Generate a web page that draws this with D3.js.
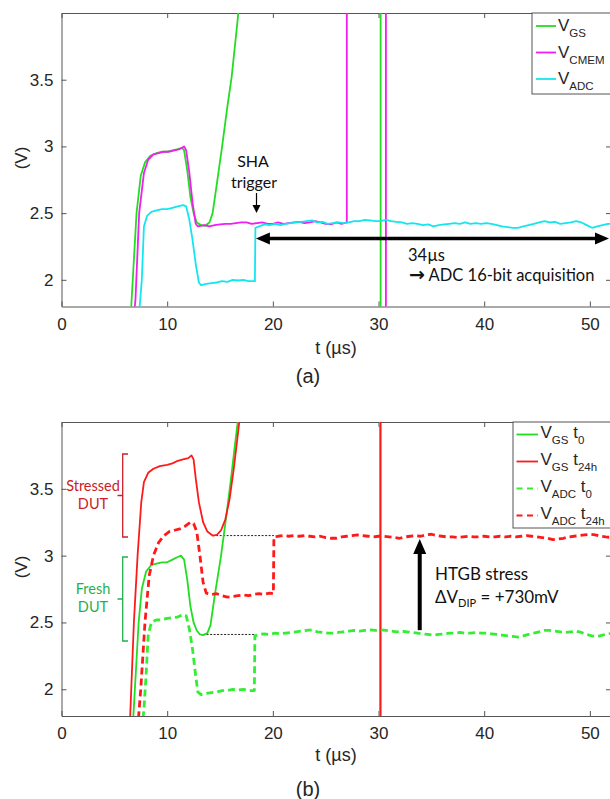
<!DOCTYPE html>
<html>
<head>
<meta charset="utf-8">
<script src="https://cdn.jsdelivr.net/npm/d3@7"></script>
<style>
  body { margin: 0; background: #fff; }
  svg { display: block; }
  .ax text { font-family: "Liberation Sans", Arial, sans-serif; font-size: 17px; fill: #262626; }
  .ax path, .ax line { stroke: #555; stroke-width: 1; }
  .lbl { font-family: "Liberation Sans", Arial, sans-serif; fill: #262626; }
  .note { font-family: Lato, "Open Sans", sans-serif; fill: #111; }
</style>
</head>
<body>
<div id="fig"></div>
<script>
// ---- data (t in µs, V in volts) ----
const xTicks = [0, 10, 20, 30, 40, 50]
const yTicks = [2, 2.5, 3, 3.5]

// panel (a)
const vgsA = [[6.4,1.7],[6.6,1.8],[7.1,2.5],[7.5,2.78],[7.9,2.88],[8.4,2.93],[9,2.95],[9.5,2.96],[10,2.96],[10.5,2.97],[11,2.98],[11.4,2.99],[11.6,2.97],[11.9,2.82],[12.2,2.62],[12.5,2.5],[12.8,2.43],[13.2,2.41],[13.6,2.405],[14.0,2.43],[14.3,2.5],[14.7,2.72],[15.2,3.0],[15.7,3.3],[16.1,3.52],[16.5,3.82],[16.8,4.05],[17.2,4.4],[30.2,4.4],[30.2,1.7]]
const vcmemA = [[6.8,1.7],[7.0,1.85],[7.35,2.5],[7.8,2.8],[8.2,2.9],[8.7,2.94],[9.2,2.95],[9.7,2.96],[10.2,2.96],[10.7,2.97],[11.2,2.98],[11.6,3.0],[11.8,2.97],[12.1,2.8],[12.4,2.58],[12.7,2.42],[12.9,2.40],[13.5,2.41],[14,2.40],[14.5,2.41],[15,2.415],[15.5,2.42],[16,2.42],[16.5,2.425],[17,2.43],[17.5,2.43],[18,2.42],[18.5,2.425],[19,2.43],[19.5,2.42],[20,2.42],[20.5,2.43],[21,2.42],[21.5,2.425],[22,2.43],[22.5,2.435],[23,2.425],[23.5,2.43],[24,2.44],[24.5,2.43],[25,2.42],[25.5,2.415],[26,2.43],[26.5,2.42],[27,2.43],[27,4.4],[30.7,4.4],[30.7,1.7]]
const vadcA = [[7.3,1.7],[7.6,2.0],[7.8,2.4],[8.1,2.48],[8.5,2.51],[9,2.52],[9.5,2.53],[10,2.53],[10.5,2.54],[11,2.55],[11.5,2.56],[11.8,2.55],[12.1,2.45],[12.4,2.3],[12.7,2.12],[13.0,1.98],[13.2,1.96],[13.7,1.97],[14.2,1.975],[14.7,1.98],[15.2,1.99],[15.7,1.985],[16.2,2.0],[16.7,1.995],[17.2,2.0],[17.7,1.99],[18.3,1.99],[18.35,2.39],[18.7,2.40],[19.2,2.415],[19.7,2.41],[20.2,2.42],[20.7,2.41],[21.2,2.42],[21.7,2.425],[22.2,2.43],[22.7,2.435],[23.2,2.44],[23.7,2.445],[24.2,2.43],[24.7,2.435],[25.2,2.42],[25.7,2.425],[26.2,2.43],[26.7,2.425],[27.2,2.43],[27.7,2.44],[28.2,2.44],[28.7,2.45],[29.2,2.445],[29.7,2.44],[30.2,2.44],[30.7,2.45],[31.2,2.44],[31.7,2.435],[32.2,2.43],[32.7,2.42],[33.2,2.425],[33.7,2.42],[34.2,2.41],[34.7,2.415],[35.2,2.40],[35.7,2.41],[36.2,2.415],[36.7,2.42],[37.2,2.425],[37.7,2.42],[38.2,2.43],[38.7,2.42],[39.2,2.425],[39.7,2.42],[40.2,2.425],[40.7,2.42],[41.2,2.41],[41.7,2.40],[42.2,2.395],[42.7,2.39],[43.2,2.39],[43.7,2.40],[44.2,2.41],[44.7,2.42],[45.2,2.43],[45.7,2.44],[46.2,2.43],[46.7,2.435],[47.2,2.42],[47.7,2.425],[48.2,2.43],[48.7,2.44],[49.2,2.43],[49.7,2.41],[50.2,2.39],[50.7,2.40],[51.2,2.41],[51.7,2.42],[52.2,2.42]]

// panel (b)
const vgsT0 = [[6.6,1.7],[6.8,1.8],[7.3,2.5],[7.6,2.75],[8.0,2.88],[8.5,2.93],[9,2.94],[9.5,2.95],[10,2.95],[10.5,2.97],[11,2.99],[11.3,3.0],[11.6,2.97],[11.9,2.82],[12.2,2.62],[12.5,2.5],[12.8,2.44],[13.1,2.41],[13.4,2.405],[13.8,2.42],[14.1,2.48],[14.5,2.7],[15.1,3.0],[15.6,3.3],[16.0,3.55],[16.4,3.82],[16.75,4.05],[17.2,4.4],[30.15,4.4],[30.15,1.7]]
const vgsT24 = [[6.4,1.7],[6.5,1.8],[6.6,2.0],[6.85,2.5],[7.2,3.0],[7.55,3.4],[7.8,3.55],[8.2,3.62],[8.7,3.65],[9.3,3.67],[10,3.68],[10.5,3.69],[11,3.71],[11.5,3.72],[12,3.73],[12.3,3.75],[12.5,3.72],[12.7,3.58],[13.0,3.4],[13.4,3.25],[13.8,3.18],[14.3,3.15],[14.7,3.155],[15.1,3.19],[15.5,3.27],[15.9,3.42],[16.3,3.65],[16.6,3.85],[16.9,4.05],[17.3,4.4],[30.2,4.4],[30.2,1.7]]
const vadcT0 = [[7.6,1.7],[7.8,1.85],[8.0,2.1],[8.2,2.4],[8.5,2.5],[9,2.52],[9.5,2.52],[10,2.53],[10.5,2.535],[11,2.54],[11.5,2.56],[11.8,2.55],[12.1,2.45],[12.4,2.3],[12.7,2.1],[12.9,1.98],[13.2,1.96],[13.7,1.97],[14.2,1.975],[14.7,1.98],[15.2,1.99],[15.7,1.99],[16.2,2.0],[16.7,1.995],[17.2,2.0],[17.7,1.99],[18.25,1.99],[18.3,2.40],[18.7,2.41],[19.2,2.415],[19.7,2.41],[20.2,2.42],[20.7,2.415],[21.2,2.42],[21.7,2.425],[22.2,2.43],[22.7,2.435],[23.2,2.44],[23.7,2.445],[24.2,2.43],[24.7,2.425],[25.2,2.42],[25.7,2.42],[26.2,2.425],[26.7,2.43],[27.2,2.435],[27.7,2.44],[28.2,2.435],[28.7,2.44],[29.2,2.445],[29.7,2.44],[30.2,2.445],[30.7,2.44],[31.2,2.435],[31.7,2.43],[32.2,2.435],[32.7,2.43],[33.2,2.425],[33.7,2.42],[34.2,2.415],[34.7,2.41],[35.2,2.405],[35.7,2.41],[36.2,2.415],[36.7,2.42],[37.2,2.42],[37.7,2.425],[38.2,2.42],[38.7,2.42],[39.2,2.425],[39.7,2.42],[40.2,2.42],[40.7,2.415],[41.2,2.41],[41.7,2.405],[42.2,2.40],[42.7,2.395],[43.2,2.39],[43.7,2.40],[44.2,2.41],[44.7,2.42],[45.2,2.43],[45.7,2.44],[46.2,2.44],[46.7,2.435],[47.2,2.43],[47.7,2.425],[48.2,2.43],[48.7,2.435],[49.2,2.425],[49.7,2.41],[50.2,2.40],[50.7,2.395],[51.2,2.405],[51.7,2.415],[52.2,2.42]]
const vadcT24 = [[7.2,1.7],[7.3,1.8],[7.5,2.0],[7.9,2.5],[8.3,2.85],[8.7,3.0],[9.2,3.1],[9.7,3.15],[10.2,3.18],[10.7,3.19],[11.2,3.2],[11.7,3.22],[12.2,3.25],[12.5,3.24],[12.8,3.18],[13.1,3.0],[13.4,2.8],[13.7,2.72],[14.2,2.71],[14.7,2.715],[15.2,2.70],[15.7,2.69],[16.2,2.695],[16.7,2.70],[17.2,2.705],[17.7,2.70],[18.2,2.71],[18.7,2.715],[19.2,2.71],[19.7,2.72],[20.05,2.715],[20.1,3.14],[20.5,3.145],[21,3.15],[21.5,3.145],[22,3.15],[22.5,3.145],[23,3.15],[23.5,3.145],[24,3.14],[24.5,3.145],[25,3.135],[25.5,3.13],[26,3.13],[26.5,3.14],[27,3.145],[27.5,3.15],[28,3.155],[28.5,3.15],[29,3.145],[29.5,3.14],[30,3.145],[30.5,3.145],[31,3.14],[31.5,3.135],[32,3.13],[32.5,3.14],[33,3.145],[33.5,3.15],[34,3.145],[34.5,3.155],[35,3.16],[35.5,3.15],[36,3.145],[36.5,3.14],[37,3.14],[37.5,3.135],[38,3.14],[38.5,3.145],[39,3.14],[39.5,3.14],[40,3.145],[40.5,3.14],[41,3.14],[41.5,3.145],[42,3.14],[42.5,3.145],[43,3.14],[43.5,3.145],[44,3.15],[44.5,3.145],[45,3.14],[45.5,3.135],[46,3.13],[46.5,3.12],[47,3.125],[47.5,3.13],[48,3.14],[48.5,3.145],[49,3.15],[49.5,3.155],[50,3.16],[50.5,3.155],[51,3.145],[51.5,3.14],[52.2,3.135]]

// dotted level guides in (b)
const guides = [[14.3, 20.1, 3.15], [13.4, 18.3, 2.41]]

const W = 610, H = 799
const svg = d3.select('#fig').append('svg').attr('width', W).attr('height', H)

const x = d3.scaleLinear().domain([0, 52]).range([61.5, 611])

function makePanel(top, bot, id) {
  const y = d3.scaleLinear().domain([1.8, 4.0]).range([bot, top])
  svg.append('clipPath').attr('id', id)
    .append('rect').attr('x', x(0)).attr('y', top).attr('width', x(52) - x(0)).attr('height', bot - top)

  svg.append('g').attr('class', 'ax').attr('transform', `translate(0,${bot})`)
    .call(d3.axisBottom(x).tickValues(xTicks).tickSizeInner(-5).tickSizeOuter(0).tickPadding(11))
  svg.append('g').attr('class', 'ax').attr('transform', `translate(0,${top})`)
    .call(d3.axisTop(x).tickValues(xTicks).tickSizeInner(-5).tickSizeOuter(0).tickFormat(''))
  svg.append('g').attr('class', 'ax').attr('transform', `translate(${x(0)},0)`)
    .call(d3.axisLeft(y).tickValues(yTicks).tickSizeInner(-5).tickSizeOuter(0).tickPadding(8).tickFormat(d => d))
  svg.append('g').attr('class', 'ax').attr('transform', `translate(${x(52)},0)`)
    .call(d3.axisRight(y).tickValues(yTicks).tickSizeInner(-5).tickSizeOuter(0).tickFormat(''))
  return y
}

function trace(data, y, clip, color, width, dash) {
  const line = d3.line().x(d => x(d[0])).y(d => y(d[1]))
  svg.append('path').datum(data)
    .attr('clip-path', `url(#${clip})`)
    .attr('d', line)
    .attr('fill', 'none')
    .attr('stroke', color)
    .attr('stroke-width', width)
    .attr('stroke-linejoin', 'round')
    .attr('stroke-dasharray', dash || null)
}

function arrowHead(px, py, dir, len, half) {
  let pts
  if (dir === 'up') pts = [[px, py], [px - half, py + len], [px + half, py + len]]
  if (dir === 'down') pts = [[px, py], [px - half, py - len], [px + half, py - len]]
  if (dir === 'left') pts = [[px, py], [px + len, py - half], [px + len, py + half]]
  if (dir === 'right') pts = [[px, py], [px - len, py - half], [px - len, py + half]]
  svg.append('path').attr('d', 'M' + pts.join('L') + 'Z').attr('fill', '#000')
}

const GREEN = '#22dd22', MAG = '#f01ef0', CYAN = '#14e6f0', RED = '#ff1a1a'

// ================= panel (a) =================
const yA = makePanel(13, 306.5, 'clipA')
trace(vgsA, yA, 'clipA', GREEN, 1.8)
trace(vcmemA, yA, 'clipA', MAG, 1.8)
trace(vadcA, yA, 'clipA', CYAN, 1.8)

// SHA trigger
svg.append('text').attr('class', 'note').attr('x', 253).attr('y', 167).attr('text-anchor', 'middle').style('font-size', '16px').text('SHA')
svg.append('text').attr('class', 'note').attr('x', 254).attr('y', 188).attr('text-anchor', 'middle').style('font-size', '16px').text('trigger')
svg.append('line').attr('x1', 256.5).attr('x2', 256.5).attr('y1', 193).attr('y2', 206).attr('stroke', '#000').attr('stroke-width', 1.2)
arrowHead(256.5, 213, 'down', 8, 4)

// 34 µs acquisition window
const yArr = 238.5
svg.append('line').attr('x1', x(18.3) + 12).attr('x2', x(52) - 14).attr('y1', yArr).attr('y2', yArr).attr('stroke', '#000').attr('stroke-width', 3.5)
arrowHead(x(18.3) + 1, yArr, 'left', 14, 6)
arrowHead(x(52) - 2, yArr, 'right', 14, 6)
svg.append('text').attr('class', 'note').attr('x', 408).attr('y', 261).style('font-size', '16.5px').text('34µs')
const acq = svg.append('text').attr('class', 'note').attr('x', 409).attr('y', 281).style('font-size', '16.5px')
acq.append('tspan').style('font-family', '"DejaVu Sans", sans-serif').style('font-size', '19px').style('font-weight', 'bold').text('→')
acq.append('tspan').text(' ADC 16-bit acquisition')

// legend (a)
const legA = [['GS', GREEN], ['CMEM', MAG], ['ADC', CYAN]]
svg.append('rect').attr('x', 532).attr('y', 13).attr('width', 80).attr('height', 81).attr('fill', '#fff').attr('stroke', '#555')
legA.forEach((d, i) => {
  const ly = 26 + i * 26.5
  svg.append('line').attr('x1', 536).attr('x2', 556).attr('y1', ly).attr('y2', ly).attr('stroke', d[1]).attr('stroke-width', 1.8)
  const t = svg.append('text').attr('class', 'lbl').attr('x', 558).attr('y', ly + 5).style('font-size', '17px')
  t.append('tspan').text('V')
  t.append('tspan').attr('dy', 6).style('font-size', '11.5px').text(d[0])
})

svg.append('text').attr('class', 'lbl').attr('transform', 'translate(27,158) rotate(-90)').attr('text-anchor', 'middle').style('font-size', '17px').text('(V)')
svg.append('text').attr('class', 'lbl').attr('x', 336).attr('y', 354).attr('text-anchor', 'middle').style('font-size', '18px').text('t (µs)')
svg.append('text').attr('class', 'lbl').attr('x', 308).attr('y', 383).attr('text-anchor', 'middle').style('font-size', '20px').text('(a)')

// ================= panel (b) =================
const yB = makePanel(422, 716, 'clipB')
guides.forEach(g => {
  svg.append('line').attr('x1', x(g[0])).attr('x2', x(g[1])).attr('y1', yB(g[2])).attr('y2', yB(g[2]))
    .attr('stroke', '#222').attr('stroke-width', 1).attr('stroke-dasharray', '2,1.5')
})
trace(vgsT0, yB, 'clipB', GREEN, 1.8)
trace(vgsT24, yB, 'clipB', RED, 1.8)
trace(vadcT0, yB, 'clipB', '#33ee33', 2.8, '7,4')
trace(vadcT24, yB, 'clipB', RED, 2.8, '7,4')

// brackets
function bracket(y0, y1, color, line1, line2) {
  const bx = 122.7, mid = (y0 + y1) / 2
  svg.append('path').attr('d', `M128,${y0}H${bx}V${y1}H128M${bx},${mid}H117.5`)
    .attr('fill', 'none').attr('stroke', color).attr('stroke-width', 1.3)
  svg.append('text').attr('class', 'note').attr('x', 93).attr('y', mid - 5).attr('text-anchor', 'middle').style('font-size', '14.5px').style('fill', color).text(line1)
  svg.append('text').attr('class', 'note').attr('x', 93).attr('y', mid + 13).attr('text-anchor', 'middle').style('font-size', '14.5px').style('fill', color).text(line2)
}
bracket(454, 537, '#cc2026', 'Stressed', 'DUT')
bracket(557, 641, '#1fb14f', 'Fresh', 'DUT')

// HTGB arrow
svg.append('line').attr('x1', x(33.9)).attr('x2', x(33.9)).attr('y1', yB(2.42) - 3).attr('y2', yB(3.14) + 14).attr('stroke', '#000').attr('stroke-width', 4)
arrowHead(x(33.9), yB(3.14) + 2, 'up', 15, 6.5)
svg.append('text').attr('class', 'note').attr('x', 435).attr('y', 580).style('font-size', '17px').text('HTGB stress')
const dv = svg.append('text').attr('class', 'note').attr('x', 435).attr('y', 603).style('font-size', '17px')
dv.append('tspan').text('ΔV')
dv.append('tspan').attr('dy', 4).style('font-size', '11px').text('DIP')
dv.append('tspan').attr('dy', -4).text(' = +730mV')

// legend (b)
const legB = [['GS', '0', GREEN, null], ['GS', '24h', RED, null], ['ADC', '0', '#33ee33', '6,4.5'], ['ADC', '24h', RED, '6,4.5']]
svg.append('rect').attr('x', 513).attr('y', 422).attr('width', 99).attr('height', 106).attr('fill', '#fff').attr('stroke', '#555')
legB.forEach((d, i) => {
  const ly = 434.5 + i * 27
  svg.append('line').attr('x1', 516.5).attr('x2', 538).attr('y1', ly).attr('y2', ly).attr('stroke', d[2]).attr('stroke-width', 1.8).attr('stroke-dasharray', d[3])
  const t = svg.append('text').attr('class', 'lbl').attr('x', 540.5).attr('y', ly + 3).style('font-size', '17px')
  t.append('tspan').text('V')
  t.append('tspan').attr('dy', 6).style('font-size', '11.5px').text(d[0])
  t.append('tspan').attr('dy', -6).text(' t')
  t.append('tspan').attr('dy', 6).style('font-size', '11.5px').text(d[1])
})

svg.append('text').attr('class', 'lbl').attr('transform', 'translate(27,567) rotate(-90)').attr('text-anchor', 'middle').style('font-size', '17px').text('(V)')
svg.append('text').attr('class', 'lbl').attr('x', 336).attr('y', 761).attr('text-anchor', 'middle').style('font-size', '18px').text('t (µs)')
svg.append('text').attr('class', 'lbl').attr('x', 308).attr('y', 796).attr('text-anchor', 'middle').style('font-size', '20px').text('(b)')
</script>
</body>
</html>
